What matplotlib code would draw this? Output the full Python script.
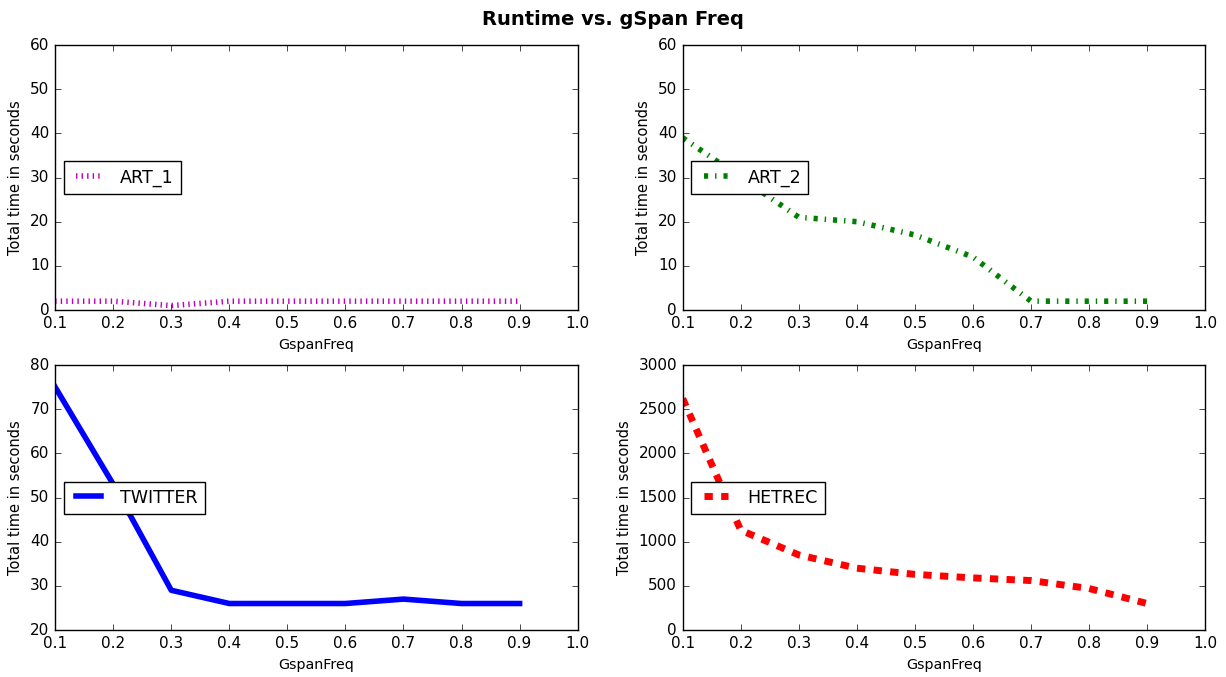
import matplotlib
matplotlib.use("Agg")
import matplotlib.pyplot as plt

plt.style.use("classic")
plt.rcParams["figure.facecolor"] = "white"
plt.rcParams["savefig.facecolor"] = "white"
plt.rcParams["font.family"] = ["DejaVu Sans"]

freq = [0.1, 0.2, 0.3, 0.4, 0.5, 0.6, 0.7, 0.8, 0.9]
art1 = [2, 2, 1, 2, 2, 2, 2, 2, 2]
art2 = [39, 30, 21, 20, 17, 12, 2, 2, 2]
twitter = [75, 53, 29, 26, 26, 26, 27, 26, 26]
hetrec = [2620, 1130, 850, 700, 630, 590, 560, 470, 300]

series = [
    ("ART_1", art1, "m", ":", 4, (0, 60)),
    ("ART_2", art2, "g", "-.", 4, (0, 60)),
    ("TWITTER", twitter, "b", "-", 4, (20, 80)),
    ("HETREC", hetrec, "r", "--", 5, (0, 3000)),
]

fig, axes = plt.subplots(2, 2, figsize=(12.26, 6.77), dpi=100)
fig.subplots_adjust(left=0.045, right=0.983, top=0.9335, bottom=0.0694,
                    wspace=0.201, hspace=0.2075)

for ax, (name, vals, col, ls, lw, ylim) in zip(axes.flat, series):
    ax.plot(freq, vals, color=col, linestyle=ls, linewidth=lw, label=name)
    ax.set_xlim(0.1, 1.0)
    ax.set_ylim(*ylim)
    ax.set_xlabel("GspanFreq", fontsize=10.3)
    ax.set_ylabel("Total time in seconds", fontsize=10.5)
    ax.tick_params(labelsize=11)
    ax.legend(loc="center left", fontsize=12.6)

fig.suptitle("Runtime vs. gSpan Freq", fontsize=14, fontweight="bold", y=0.985)
fig.savefig("out.png", dpi=100)
